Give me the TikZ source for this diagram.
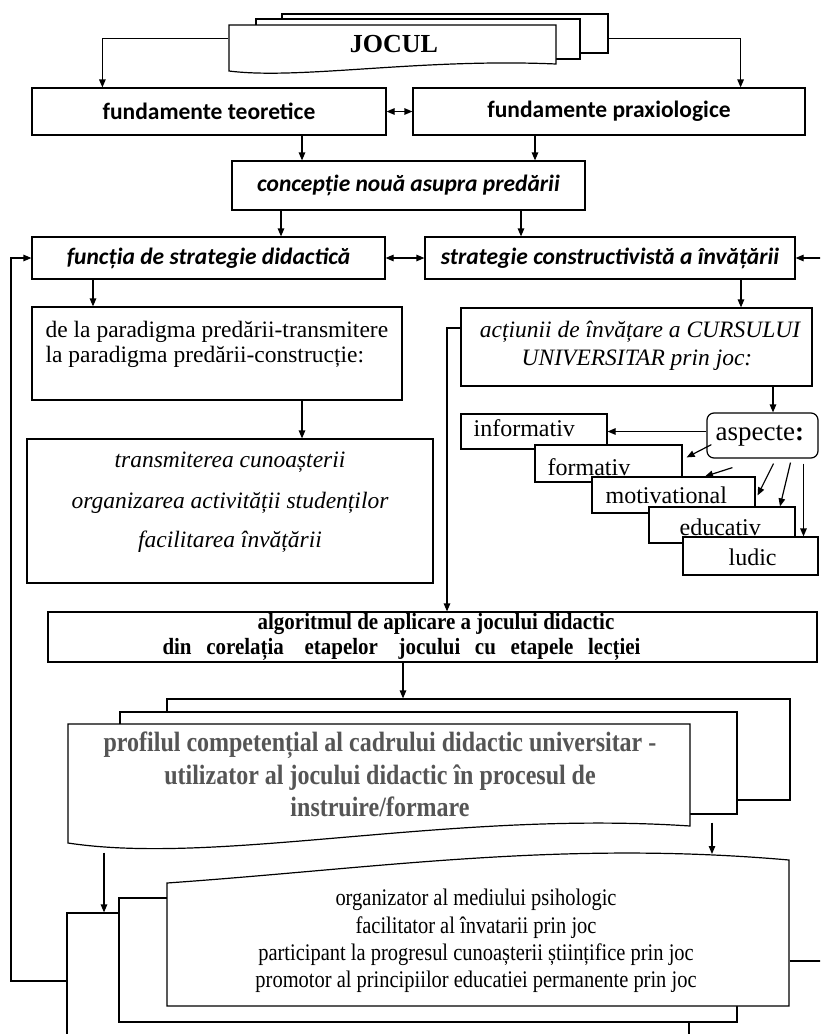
\documentclass[tikz,border=0pt]{standalone}
\usepackage{fontspec}
\setmainfont{Liberation Serif}
\newfontfamily\carlito{Carlito}
\newfontfamily\narrowserif{Liberation Serif}[FakeStretch=0.86]
\newfontfamily\algserif{Liberation Serif}[FakeStretch=0.9]
\usetikzlibrary{arrows.meta,calc}
\definecolor{profgray}{RGB}{85,85,85}
\begin{document}
\begin{tikzpicture}[x=1pt,y=-1pt,line width=1.2pt,
  box/.style={draw, fill=white, rectangle, inner sep=0pt},
  frame/.style={rectangle, inner sep=0pt, draw=none},
  arr/.style={-{Triangle[length=8pt,width=6.5pt]}},
  darr/.style={{Triangle[length=8pt,width=6.5pt]}-{Triangle[length=8pt,width=6.5pt]}},
  sans/.style={font=\carlito\bfseries\fontsize{23.5}{28}\selectfont},
  sansit/.style={font=\carlito\bfseries\itshape\fontsize{23.5}{28}\selectfont},
  serif/.style={inner sep=0pt, font=\fontsize{23.5}{28}\selectfont},
  serifit/.style={inner sep=0pt, font=\itshape\fontsize{23.5}{28}\selectfont},
  aspf/.style={inner sep=0pt, font=\fontsize{24}{28}\selectfont},
  algf/.style={inner sep=0pt, font=\algserif\bfseries\fontsize{23.3}{24}\selectfont},
  proff/.style={inner sep=0pt, text=profgray, font=\narrowserif\bfseries\fontsize{27.9}{30}\selectfont},
  lowf/.style={inner sep=0pt, font=\narrowserif\fontsize{23.8}{26}\selectfont}]
\useasboundingbox (0,0) rectangle (820,1034);
\clip (0,0) rectangle (820,1034);
\fill[white] (0,0) rectangle (820,1034);

% JOCUL stack
\node[box, minimum width=326pt, minimum height=39pt] (jb) at (445,33.5) {};
\node[box, minimum width=324pt, minimum height=40pt] (jm) at (418,39) {};
\draw[fill=white] (229,25) -- (556,25) -- (556,64) .. controls (420,58) and (300,80) .. (229,71) -- cycle;
\node[frame, minimum width=327pt, minimum height=46pt] (jf) at (392.5,48) {};
\node[font=\bfseries\fontsize{26}{30}\selectfont] (jocul) at (394,44) {JOCUL};

% top boxes
\node[box, sans, minimum width=354pt, minimum height=47pt] (ft) at (209,111.5) {fundamente teoretice};
\node[box, sans, minimum width=392pt, minimum height=47pt] (fp) at (609,111.5) {fundamente praxiologice};
\node[box, sansit, minimum width=353pt, minimum height=49pt] (cn) at (408.5,185.5) {concepție nouă asupra predării};
\node[box, sansit, minimum width=353pt, minimum height=42pt] (fs) at (208.5,258) {funcția de strategie didactică};
\node[box, sansit, minimum width=370pt, minimum height=42pt] (sc) at (610,258) {strategie constructivistă a învățării};

% left column
\node[box, minimum width=370pt, minimum height=93pt] (pd) at (217,353.5) {};
\node[serif, anchor=base west] (pd1) at (45,337) {de la paradigma predării-transmitere};
\node[serif, anchor=base west] (pd2) at (45,362) {la paradigma predării-construcție:};
\node[box, minimum width=406pt, minimum height=144pt] (tr) at (230,511) {};
\node[serifit, anchor=base] (tr1) at (230,467) {transmiterea cunoașterii};
\node[serifit, anchor=base] (tr2) at (230,508) {organizarea activității studenților};
\node[serifit, anchor=base] (tr3) at (230,547) {facilitarea învățării};

% right column
\node[box, minimum width=351pt, minimum height=78pt] (ac) at (636.5,347) {};
\node[serifit, anchor=base] (ac1) at (640,337) {acțiunii de învățare a CURSULUI};
\node[serifit, anchor=base] (ac2) at (637,365) {UNIVERSITAR prin joc:};

\node[box, minimum width=146pt, minimum height=35pt] (inf) at (534,431.5) {};
\node[aspf, anchor=base west] (inft) at (473,436) {informativ};
\node[box, minimum width=147pt, minimum height=37pt] (form) at (608.5,463.5) {};
\node[aspf, anchor=base west] (formt) at (547,475) {formativ};
\node[box, minimum width=163pt, minimum height=36pt] (mot) at (673.5,495) {};
\node[aspf, anchor=base west] (mott) at (605,503) {motivational};
\node[box, minimum width=146pt, minimum height=36pt] (edu) at (722,525) {};
\node[aspf, anchor=base west] (edut) at (679,535) {educativ};
\node[box, minimum width=135pt, minimum height=38pt] (lud) at (750.5,556) {};
\node[aspf, anchor=base west] (ludt) at (728,565) {ludic};
\node[box, rounded corners=7pt, minimum width=111pt, minimum height=45pt] (asp) at (762.5,435.5) {};
\node[inner sep=0pt, anchor=base west, font=\fontsize{27}{30}\selectfont] (aspt) at (715,440) {aspecte\textbf{:}};

% algoritmul
\node[box, minimum width=769pt, minimum height=50pt] (alg) at (432.5,637) {};
\node[algf, anchor=base] (alg1) at (436,629) {algoritmul de aplicare a jocului didactic};
\node[algf, anchor=base] (alg2) at (401.5,654) {\makebox[478pt][s]{din corelația\hspace{6pt} etapelor\hspace{6pt} jocului cu etapele lecției}};

% profil stack
\node[box, minimum width=623pt, minimum height=101pt] (pb) at (478.5,749.5) {};
\node[box, minimum width=617pt, minimum height=102pt] (pm) at (428.5,763) {};
\draw[fill=white] (68,724) -- (690,724) -- (690,826) .. controls (450,810) and (220,866) .. (68,843) -- cycle;
\node[frame, minimum width=622pt, minimum height=119pt] (pf) at (379,783.5) {};
\node[proff, anchor=base] (pf1) at (380,751) {profilul competențial al cadrului didactic universitar -};
\node[proff, anchor=base] (pf2) at (380,784) {utilizator al jocului didactic în procesul de};
\node[proff, anchor=base] (pf3) at (380,816) {instruire/formare};

% lower stack
\node[box, minimum width=622pt, minimum height=137pt] (lb) at (378,981.5) {};
\node[box, minimum width=618pt, minimum height=124pt] (lm) at (428,960) {};
\draw[fill=white] (167,1006) -- (167,883) .. controls (380,868) and (560,840) .. (789,860) -- (789,1006) -- cycle;
\node[frame, minimum width=622pt, minimum height=155pt] (lf) at (478,928.5) {};
\coordinate (lftop) at (712,854);
\node[lowf, anchor=base] (l1) at (476,905) {organizator al mediului psihologic};
\node[lowf, anchor=base] (l2) at (476,933) {facilitator al învatarii prin joc};
\node[lowf, anchor=base] (l3) at (476,960) {participant la progresul cunoașterii științifice prin joc};
\node[lowf, anchor=base] (l4) at (476,987) {promotor al principiilor educatiei permanente prin joc};

% connectors
\draw[arr] ([yshift=-14pt]jf.north west) -| ([xshift=71pt]ft.north west);
\draw[arr] ([yshift=-25pt]jb.north east) -| ([xshift=-65pt]fp.north east);
\draw[darr] (ft.east) -- (fp.west);
\draw[arr] (ft.south -| 302,0) -- (cn.north -| 302,0);
\draw[arr] (fp.south -| 535,0) -- (cn.north -| 535,0);
\draw[arr] (cn.south -| 281,0) -- (fs.north -| 281,0);
\draw[arr] (cn.south -| 521,0) -- (sc.north -| 521,0);
\draw[darr] (fs.east) -- (sc.west);
\draw[arr] (fs.south -| 93,0) -- (pd.north -| 93,0);
\draw[arr] (sc.south -| 741,0) -- (ac.north -| 741,0);
\draw[arr] (pd.south -| 302,0) -- (tr.north -| 302,0);
\draw[arr] (ac.south -| 773,0) -- (asp.north -| 773,0);
\draw[arr] (ac.west |- 0,328) -| (alg.north -| 447,0);
\draw[arr] (asp.west |- inf.east) -- (inf.east);
\draw[arr] ($(asp.south west)+(5,-14)$) -- ($(form.north east)+(4,13)$);
\draw[arr] ($(asp.south west)+(26,9)$) -- (mot.north -| 705,0);
\draw[arr] ($(asp.south)+(11,5)$) -- ($(mot.north east)+(2,19)$);
\draw[arr] ($(asp.south)+(28,4)$) -- (edu.north -| 780,0);
\draw[arr] ($(asp.south)+(41,5)$) -- (lud.north -| 803.5,0);
\draw[arr] (alg.south -| 403,0) -- (pb.north -| 403,0);
\draw[arr] ($(pm.south -| 712,0)+(0,8)$) -- (lftop);
\draw[arr] ($(pf.south -| 104,0)+(0,9)$) -- (lb.north -| 104,0);
\draw[arr] (lb.west |- 0,981) -- (11,981) |- (fs.west);
\draw[arr] (lf.east |- 0,961) -- (824,961) |- (sc.east);
\end{tikzpicture}
\end{document}
